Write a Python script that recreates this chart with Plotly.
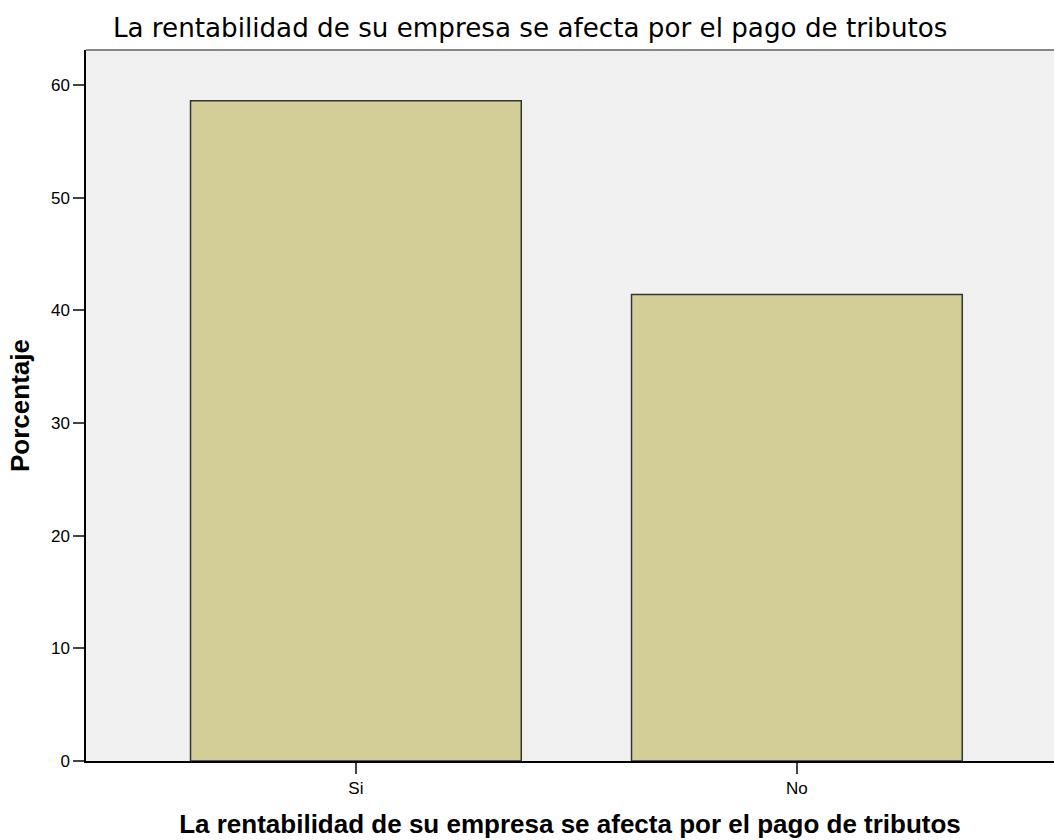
import plotly.graph_objects as go

categories = ["Si", "No"]
percentages = [58.6, 41.4]
y_ticks = [0, 10, 20, 30, 40, 50, 60]

title_text = "La rentabilidad de su empresa se afecta por el pago de tributos"

fig = go.Figure()
fig.add_trace(go.Bar(
    x=categories,
    y=percentages,
    width=0.75,
    marker=dict(color="#d3ce98", line=dict(color="#333333", width=1.5)),
    hoverinfo="x+y",
))

fig.update_layout(
    width=1054,
    height=840,
    paper_bgcolor="white",
    plot_bgcolor="#f0f0f0",
    margin=dict(l=86, r=0, t=50, b=79),
    showlegend=False,
    font=dict(family="Liberation Sans, Arial, sans-serif", color="#000000"),
    title=dict(
        text=title_text,
        x=0.503, xanchor="center",
        y=1 - 28 / 840, yanchor="middle",
        font=dict(size=26.2, family="DejaVu Sans, sans-serif", color="#000000"),
    ),
    xaxis=dict(
        range=[-0.612, 1.583],
        showgrid=False,
        showline=True, linecolor="#000000", linewidth=1.5,
        ticks="outside", ticklen=11, tickwidth=1.5, tickcolor="#444444",
        tickfont=dict(size=17),
        title=dict(text="<b>" + title_text + "</b>", font=dict(size=26), standoff=18),
        zeroline=False,
    ),
    yaxis=dict(
        range=[0, 63.1],
        tickvals=y_ticks,
        showgrid=False,
        showline=True, linecolor="#000000", linewidth=1.5,
        ticks="outside", ticklen=11, tickwidth=1.5, tickcolor="#444444",
        tickfont=dict(size=17),
        title=dict(text="<b>Porcentaje</b>", font=dict(size=26), standoff=14),
        zeroline=False,
    ),
    shapes=[dict(type="line", xref="paper", yref="paper", x0=0, x1=1, y0=1, y1=1,
                 line=dict(color="#888888", width=2))],
)

fig.write_html("out.html", config={"displayModeBar": False},
               post_script="document.body.style.margin='0';")
